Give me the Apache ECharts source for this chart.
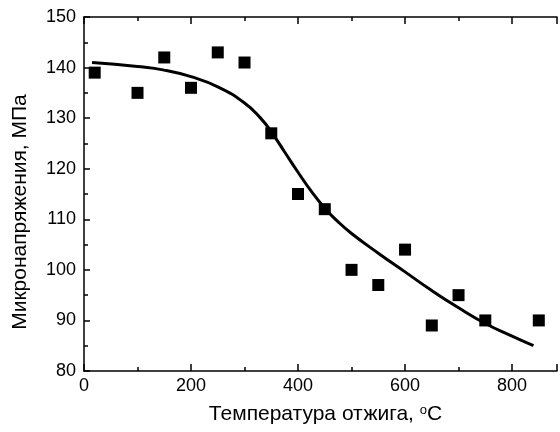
<!DOCTYPE html>
<html>
<head>
<meta charset="utf-8">
<script src="https://cdn.jsdelivr.net/npm/echarts@6/dist/echarts.min.js"></script>
<style>
  html, body { margin: 0; padding: 0; background: #fff; }
  #main { width: 560px; height: 432px; }
</style>
</head>
<body>
<div id="main"></div>
<script>
// измеренные точки: температура отжига, °C / микронапряжения, МПа
var tempPts = [20, 100, 150, 200, 250, 300, 350, 400, 450, 500, 550, 600, 650, 700, 750, 850];
var stressPts = [139, 135, 142, 136, 143, 141, 127, 115, 112, 100, 97, 104, 89, 95, 90, 90];

// аппроксимирующая кривая
var fitT = [15, 100, 150, 200, 250, 300, 330, 350, 375, 400, 425, 450, 475, 500, 550, 600, 650, 700, 750, 800, 840];
var fitS = [141, 140.2, 139.5, 138.2, 136.2, 133, 130, 127.3, 123.3, 119.3, 115.5, 112.2, 109.5, 107.2, 103.3, 99.6, 95.9, 92.5, 89.4, 86.9, 85.0];

var xTicks = [0, 200, 400, 600, 800];

var font = 'Liberation Sans, Arial, sans-serif';

var myChart = echarts.init(document.getElementById('main'));

function pairs(xs, ys) {
    return xs.map(function (x, i) { return [x, ys[i]]; });
}

var frame = { show: true, onZero: false, lineStyle: { color: '#000', width: 1.5 } };
var tickStyle = { color: '#000', width: 1.5 };

myChart.setOption({
    animation: false,
    grid: { left: 84, right: 0, top: 17, bottom: 61 },
    xAxis: [{
        type: 'value', min: 0, max: 884, interval: 200,
        name: 'Температура отжига, {sup|o}C', nameLocation: 'middle', nameGap: 33,
        nameTextStyle: {
            color: '#000', fontSize: 21, fontFamily: font, padding: [0, 0, 0, 10],
            rich: { sup: { fontSize: 13, fontFamily: font, color: '#000', verticalAlign: 'top' } }
        },
        axisLine: frame,
        axisTick: { inside: true, length: 7, lineStyle: tickStyle },
        minorTick: { show: true, splitNumber: 2, length: 4, lineStyle: tickStyle },
        axisLabel: {
            color: '#000', fontSize: 18, fontFamily: font, margin: 6,
            formatter: function (v) { return xTicks.indexOf(v) >= 0 ? String(v) : ''; }
        },
        splitLine: { show: false }
    }, {
        type: 'value', position: 'top', min: 0, max: 884, interval: 200,
        axisLine: frame,
        axisTick: { inside: true, length: 7, lineStyle: tickStyle },
        minorTick: { show: true, splitNumber: 2, length: 4, lineStyle: tickStyle },
        axisLabel: { show: false },
        splitLine: { show: false }
    }],
    yAxis: {
        type: 'value', min: 80, max: 150, interval: 10,
        name: 'Микронапряжения, МПа', nameLocation: 'middle', nameGap: 53,
        nameTextStyle: { color: '#000', fontSize: 21, fontFamily: font, padding: [0, 36, 0, 0] },
        axisLine: frame,
        axisTick: { inside: true, length: 6, lineStyle: tickStyle },
        minorTick: { show: true, splitNumber: 2, length: 4, lineStyle: tickStyle },
        axisLabel: { color: '#000', fontSize: 18, fontFamily: font, margin: 8 },
        splitLine: { show: false }
    },
    series: [{
        name: 'fit',
        type: 'line',
        data: pairs(fitT, fitS),
        smooth: true,
        showSymbol: false,
        lineStyle: { color: '#000', width: 3 },
        z: 2
    }, {
        name: 'data',
        type: 'scatter',
        data: pairs(tempPts, stressPts),
        symbol: 'rect',
        symbolSize: 12,
        itemStyle: { color: '#000', opacity: 1 },
        z: 3
    }]
});
</script>
</body>
</html>
